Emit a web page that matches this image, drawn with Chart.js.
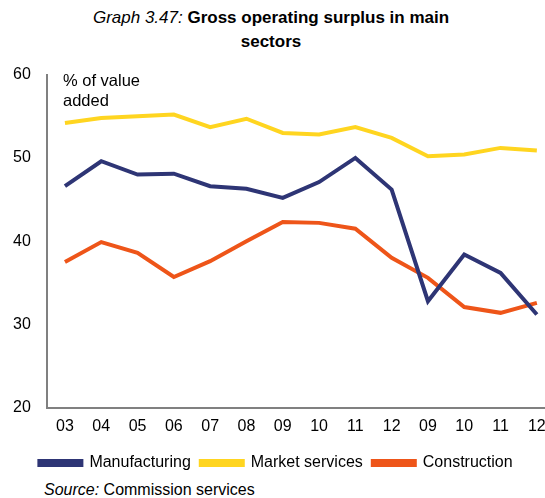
<!DOCTYPE html>
<html>
<head>
<meta charset="utf-8">
<script src="https://cdn.jsdelivr.net/npm/chart.js@4/dist/chart.umd.min.js"></script>
<style>
  body { margin: 0; width: 545px; height: 498px; overflow: hidden; background: #fff;
         font-family: "Liberation Sans", Arial, sans-serif; position: relative; }
  #title { position: absolute; left: 86px; top: 6px; width: 370px; text-align: center;
           font-size: 17px; line-height: 24px; color: #000; }
  #unit { position: absolute; left: 63px; top: 70px; font-size: 16.5px; line-height: 20px; }
  #source { position: absolute; left: 44px; top: 481px; font-size: 16px; }
  #wrap { position: absolute; left: -3px; top: 49px; width: 558px; height: 432px; }
</style>
</head>
<body>
<div id="title"><i>Graph 3.47:</i> <b>Gross operating surplus in main sectors</b></div>
<div id="wrap"><canvas id="chart"></canvas></div>
<div id="unit">% of value<br>added</div>
<div id="source"><i>Source:</i> Commission services</div>
<script>
var labels = ["03", "04", "05", "06", "07", "08", "09", "10", "11", "12", "09", "10", "11", "12"]

var manufacturing = [46.6, 49.6, 48.0, 48.1, 46.6, 46.3, 45.2, 47.1, 50.0, 46.2, 32.8, 38.4, 36.2, 31.2]
var market_services = [54.2, 54.8, 55.0, 55.2, 53.7, 54.7, 53.0, 52.8, 53.7, 52.4, 50.2, 50.4, 51.2, 50.9]
var construction = [37.5, 39.9, 38.6, 35.7, 37.6, 40.0, 42.3, 42.2, 41.5, 38.0, 35.6, 32.1, 31.4, 32.6]

var colors = {
  navy: "#2E3575",
  yellow: "#FFD520",
  orange: "#EE5519",
  axis: "#808080"
}

Chart.defaults.font.family = '"Liberation Sans", Arial, sans-serif'
Chart.defaults.font.size = 16
Chart.defaults.color = "#000"

function series(label, data, color) {
  return {
    label: label,
    data: data,
    borderColor: color,
    backgroundColor: color,
    borderWidth: 4,
    pointRadius: 0,
    tension: 0,
    fill: false
  }
}

var ctx = document.getElementById('chart').getContext('2d')

new Chart(ctx, {
  type: 'line',
  data: {
    labels: labels,
    datasets: [
      series("Manufacturing", manufacturing, colors.navy),
      series("Market services", market_services, colors.yellow),
      series("Construction", construction, colors.orange)
    ]
  },
  options: {
    responsive: true,
    maintainAspectRatio: false,
    animation: false,
    layout: { padding: { top: 5, left: 0, right: 0, bottom: 0 } },
    plugins: {
      title: { display: false },
      tooltip: { enabled: false },
      legend: {
        position: 'bottom',
        align: 'center',
        labels: {
          boxWidth: 42,
          boxHeight: 4,
          padding: 10,
          font: { size: 16 }
        }
      }
    },
    scales: {
      x: {
        offset: true,
        grid: { display: false, drawTicks: false },
        border: { color: colors.axis, width: 2 },
        ticks: { padding: 9, maxRotation: 0, autoSkip: false }
      },
      y: {
        min: 20,
        max: 60,
        grid: { display: false, drawTicks: false },
        border: { color: colors.axis, width: 2 },
        ticks: { stepSize: 10, padding: 16 }
      }
    }
  }
})
</script>
</body>
</html>
